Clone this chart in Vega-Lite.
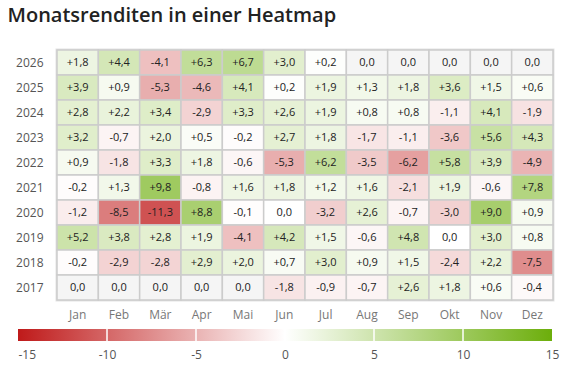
{
  "$schema": "https://vega.github.io/schema/vega-lite/v6.json",
  "background": "#ffffff",
  "padding": {"left": 7, "top": 5, "right": 5, "bottom": 5},
  "title": {
    "text": "Monatsrenditen in einer Heatmap",
    "anchor": "start",
    "fontSize": 20,
    "fontWeight": 600,
    "color": "#222222",
    "offset": 22
  },
  "config": {
    "font": "Open Sans",
    "locale": {
      "number": {"decimal": ",", "thousands": ".", "grouping": [3], "currency": ["", " €"], "minus": "-"}
    },
    "view": {"stroke": null},
    "axis": {"labelFont": "Open Sans", "labelFontSize": 12, "labelColor": "#666666", "domain": false, "ticks": false, "grid": false, "title": null}
  },
  "spacing": 6,
  "vconcat": [
    {
      "width": 496,
      "height": 250,
      "view": {"stroke": "#e3e3e3", "strokeWidth": 3},
      "data": {
        "values": [
          {"jahr": 2026, "monat": "Jan", "rendite": 1.8}, {"jahr": 2026, "monat": "Feb", "rendite": 4.4}, {"jahr": 2026, "monat": "Mär", "rendite": -4.1}, {"jahr": 2026, "monat": "Apr", "rendite": 6.3}, {"jahr": 2026, "monat": "Mai", "rendite": 6.7}, {"jahr": 2026, "monat": "Jun", "rendite": 3.0}, {"jahr": 2026, "monat": "Jul", "rendite": 0.2}, {"jahr": 2026, "monat": "Aug", "rendite": 0.0, "erfasst": false}, {"jahr": 2026, "monat": "Sep", "rendite": 0.0, "erfasst": false}, {"jahr": 2026, "monat": "Okt", "rendite": 0.0, "erfasst": false}, {"jahr": 2026, "monat": "Nov", "rendite": 0.0, "erfasst": false}, {"jahr": 2026, "monat": "Dez", "rendite": 0.0, "erfasst": false},
          {"jahr": 2025, "monat": "Jan", "rendite": 3.9}, {"jahr": 2025, "monat": "Feb", "rendite": 0.9}, {"jahr": 2025, "monat": "Mär", "rendite": -5.3}, {"jahr": 2025, "monat": "Apr", "rendite": -4.6}, {"jahr": 2025, "monat": "Mai", "rendite": 4.1}, {"jahr": 2025, "monat": "Jun", "rendite": 0.2}, {"jahr": 2025, "monat": "Jul", "rendite": 1.9}, {"jahr": 2025, "monat": "Aug", "rendite": 1.3}, {"jahr": 2025, "monat": "Sep", "rendite": 1.8}, {"jahr": 2025, "monat": "Okt", "rendite": 3.6}, {"jahr": 2025, "monat": "Nov", "rendite": 1.5}, {"jahr": 2025, "monat": "Dez", "rendite": 0.6},
          {"jahr": 2024, "monat": "Jan", "rendite": 2.8}, {"jahr": 2024, "monat": "Feb", "rendite": 2.2}, {"jahr": 2024, "monat": "Mär", "rendite": 3.4}, {"jahr": 2024, "monat": "Apr", "rendite": -2.9}, {"jahr": 2024, "monat": "Mai", "rendite": 3.3}, {"jahr": 2024, "monat": "Jun", "rendite": 2.6}, {"jahr": 2024, "monat": "Jul", "rendite": 1.9}, {"jahr": 2024, "monat": "Aug", "rendite": 0.8}, {"jahr": 2024, "monat": "Sep", "rendite": 0.8}, {"jahr": 2024, "monat": "Okt", "rendite": -1.1}, {"jahr": 2024, "monat": "Nov", "rendite": 4.1}, {"jahr": 2024, "monat": "Dez", "rendite": -1.9},
          {"jahr": 2023, "monat": "Jan", "rendite": 3.2}, {"jahr": 2023, "monat": "Feb", "rendite": -0.7}, {"jahr": 2023, "monat": "Mär", "rendite": 2.0}, {"jahr": 2023, "monat": "Apr", "rendite": 0.5}, {"jahr": 2023, "monat": "Mai", "rendite": -0.2}, {"jahr": 2023, "monat": "Jun", "rendite": 2.7}, {"jahr": 2023, "monat": "Jul", "rendite": 1.8}, {"jahr": 2023, "monat": "Aug", "rendite": -1.7}, {"jahr": 2023, "monat": "Sep", "rendite": -1.1}, {"jahr": 2023, "monat": "Okt", "rendite": -3.6}, {"jahr": 2023, "monat": "Nov", "rendite": 5.6}, {"jahr": 2023, "monat": "Dez", "rendite": 4.3},
          {"jahr": 2022, "monat": "Jan", "rendite": 0.9}, {"jahr": 2022, "monat": "Feb", "rendite": -1.8}, {"jahr": 2022, "monat": "Mär", "rendite": 3.3}, {"jahr": 2022, "monat": "Apr", "rendite": 1.8}, {"jahr": 2022, "monat": "Mai", "rendite": -0.6}, {"jahr": 2022, "monat": "Jun", "rendite": -5.3}, {"jahr": 2022, "monat": "Jul", "rendite": 6.2}, {"jahr": 2022, "monat": "Aug", "rendite": -3.5}, {"jahr": 2022, "monat": "Sep", "rendite": -6.2}, {"jahr": 2022, "monat": "Okt", "rendite": 5.8}, {"jahr": 2022, "monat": "Nov", "rendite": 3.9}, {"jahr": 2022, "monat": "Dez", "rendite": -4.9},
          {"jahr": 2021, "monat": "Jan", "rendite": -0.2}, {"jahr": 2021, "monat": "Feb", "rendite": 1.3}, {"jahr": 2021, "monat": "Mär", "rendite": 9.8}, {"jahr": 2021, "monat": "Apr", "rendite": -0.8}, {"jahr": 2021, "monat": "Mai", "rendite": 1.6}, {"jahr": 2021, "monat": "Jun", "rendite": 1.8}, {"jahr": 2021, "monat": "Jul", "rendite": 1.2}, {"jahr": 2021, "monat": "Aug", "rendite": 1.6}, {"jahr": 2021, "monat": "Sep", "rendite": -2.1}, {"jahr": 2021, "monat": "Okt", "rendite": 1.9}, {"jahr": 2021, "monat": "Nov", "rendite": -0.6}, {"jahr": 2021, "monat": "Dez", "rendite": 7.8},
          {"jahr": 2020, "monat": "Jan", "rendite": -1.2}, {"jahr": 2020, "monat": "Feb", "rendite": -8.5}, {"jahr": 2020, "monat": "Mär", "rendite": -11.3}, {"jahr": 2020, "monat": "Apr", "rendite": 8.8}, {"jahr": 2020, "monat": "Mai", "rendite": -0.1}, {"jahr": 2020, "monat": "Jun", "rendite": 0.0}, {"jahr": 2020, "monat": "Jul", "rendite": -3.2}, {"jahr": 2020, "monat": "Aug", "rendite": 2.6}, {"jahr": 2020, "monat": "Sep", "rendite": -0.7}, {"jahr": 2020, "monat": "Okt", "rendite": -3.0}, {"jahr": 2020, "monat": "Nov", "rendite": 9.0}, {"jahr": 2020, "monat": "Dez", "rendite": 0.9},
          {"jahr": 2019, "monat": "Jan", "rendite": 5.2}, {"jahr": 2019, "monat": "Feb", "rendite": 3.8}, {"jahr": 2019, "monat": "Mär", "rendite": 2.8}, {"jahr": 2019, "monat": "Apr", "rendite": 1.9}, {"jahr": 2019, "monat": "Mai", "rendite": -4.1}, {"jahr": 2019, "monat": "Jun", "rendite": 4.2}, {"jahr": 2019, "monat": "Jul", "rendite": 1.5}, {"jahr": 2019, "monat": "Aug", "rendite": -0.6}, {"jahr": 2019, "monat": "Sep", "rendite": 4.8}, {"jahr": 2019, "monat": "Okt", "rendite": 0.0}, {"jahr": 2019, "monat": "Nov", "rendite": 3.0}, {"jahr": 2019, "monat": "Dez", "rendite": 0.8},
          {"jahr": 2018, "monat": "Jan", "rendite": -0.2}, {"jahr": 2018, "monat": "Feb", "rendite": -2.9}, {"jahr": 2018, "monat": "Mär", "rendite": -2.8}, {"jahr": 2018, "monat": "Apr", "rendite": 2.9}, {"jahr": 2018, "monat": "Mai", "rendite": 2.0}, {"jahr": 2018, "monat": "Jun", "rendite": 0.7}, {"jahr": 2018, "monat": "Jul", "rendite": 3.0}, {"jahr": 2018, "monat": "Aug", "rendite": 0.9}, {"jahr": 2018, "monat": "Sep", "rendite": 1.5}, {"jahr": 2018, "monat": "Okt", "rendite": -2.4}, {"jahr": 2018, "monat": "Nov", "rendite": 2.2}, {"jahr": 2018, "monat": "Dez", "rendite": -7.5},
          {"jahr": 2017, "monat": "Jan", "rendite": 0.0, "erfasst": false}, {"jahr": 2017, "monat": "Feb", "rendite": 0.0, "erfasst": false}, {"jahr": 2017, "monat": "Mär", "rendite": 0.0, "erfasst": false}, {"jahr": 2017, "monat": "Apr", "rendite": 0.0, "erfasst": false}, {"jahr": 2017, "monat": "Mai", "rendite": 0.0, "erfasst": false}, {"jahr": 2017, "monat": "Jun", "rendite": -1.8}, {"jahr": 2017, "monat": "Jul", "rendite": -0.9}, {"jahr": 2017, "monat": "Aug", "rendite": -0.7}, {"jahr": 2017, "monat": "Sep", "rendite": 2.6}, {"jahr": 2017, "monat": "Okt", "rendite": 1.8}, {"jahr": 2017, "monat": "Nov", "rendite": 0.6}, {"jahr": 2017, "monat": "Dez", "rendite": -0.4}
        ]
      },
      "transform": [
        {"calculate": "datum.rendite > 0 ? '+' + format(datum.rendite, '.1f') : format(datum.rendite, '.1f')", "as": "beschriftung"}
      ],
      "encoding": {
        "x": {
          "field": "monat", "type": "ordinal",
          "sort": ["Jan", "Feb", "Mär", "Apr", "Mai", "Jun", "Jul", "Aug", "Sep", "Okt", "Nov", "Dez"],
          "scale": {"paddingInner": 0, "paddingOuter": 0},
          "axis": {"orient": "bottom", "labelAngle": 0, "labelPadding": 9, "labelColor": "#777777"}
        },
        "y": {
          "field": "jahr", "type": "ordinal", "sort": "descending",
          "scale": {"paddingInner": 0, "paddingOuter": 0},
          "axis": {"labelPadding": 14, "minExtent": 48, "maxExtent": 48, "labelColor": "#555555"}
        }
      },
      "layer": [
        {
          "mark": {"type": "rect", "stroke": "#cccccc", "strokeWidth": 1.5},
          "encoding": {
            "color": {
              "condition": {"test": "datum.erfasst === false", "value": "#f5f5f5"},
              "field": "rendite", "type": "quantitative",
              "scale": {"domain": [-15, 0, 15], "range": ["#bf1a1a", "#ffffff", "#6cae0b"], "interpolate": "rgb"},
              "legend": null
            }
          }
        },
        {
          "mark": {"type": "text", "fontSize": 11, "color": "#222222"},
          "encoding": {"text": {"field": "beschriftung", "type": "nominal"}}
        }
      ]
    },
    {
      "width": 496,
      "height": 12,
      "layer": [
        {
          "data": {"values": [{"von": -15, "bis": 15}]},
          "mark": {
            "type": "rect",
            "fill": {
              "gradient": "linear", "x1": 0, "x2": 1, "y1": 0, "y2": 0,
              "stops": [
                {"offset": 0, "color": "#bf1a1a"},
                {"offset": 0.5, "color": "#ffffff"},
                {"offset": 1, "color": "#6cae0b"}
              ]
            }
          },
          "encoding": {
            "x": {
              "field": "von", "type": "quantitative",
              "scale": {"domain": [-15, 15], "range": [-39, 495], "nice": false, "zero": false},
              "axis": {
                "values": [-15, -10, -5, 0, 5, 10, 15],
                "labelPadding": 8, "labelFlush": false, "labelOverlap": false, "labelColor": "#555555",
                "labelAlign": {"condition": {"test": "datum.value === -15", "value": "left"}, "value": "center"}
              }
            },
            "x2": {"field": "bis"}
          }
        },
        {
          "data": {"values": [{"stufe": -10}, {"stufe": -5}, {"stufe": 0}, {"stufe": 5}, {"stufe": 10}]},
          "mark": {"type": "rule", "color": "#ffffff", "strokeWidth": 1.5},
          "encoding": {"x": {"field": "stufe", "type": "quantitative"}}
        }
      ]
    }
  ]
}
